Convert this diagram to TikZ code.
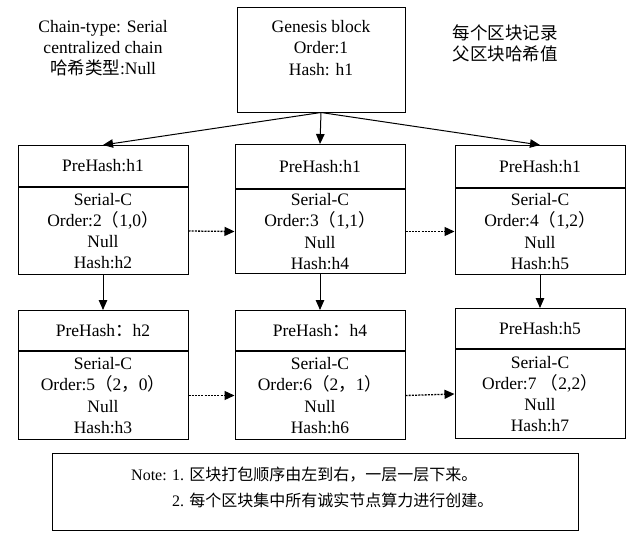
\documentclass[tikz,border=0pt]{standalone}
\usepackage{fontspec}
\setmainfont{Liberation Serif}
\newfontfamily\cjk{Noto Sans CJK SC}
\usetikzlibrary{arrows.meta}
\newcommand\blkfont{\fontsize{17.5}{21.3}\selectfont}
\newcommand\notefont{\fontsize{16}{26}\selectfont}
\begin{document}
\begin{tikzpicture}[x=1pt,y=-1pt,
  box/.style={draw, line width=1pt, minimum width=170pt, inner sep=0pt, align=center, font=\blkfont},
  txt/.style={align=center, font=\blkfont, inner sep=0pt},
  arr/.style={line width=1pt, -{Triangle[length=10pt,width=8.5pt]}},
  darr/.style={line width=1.3pt, dash pattern=on 2pt off 1.2pt, -{Triangle[length=10pt,width=9pt]}}]
\useasboundingbox (0,0) rectangle (632,536);

% genesis
\node[box, minimum width=168pt, minimum height=105pt] (g) at (321,59.5) {};
\node[txt] (gt) at (321,48) {Genesis block\\Order:1\\Hash: h1};
\node[txt] (lt) at (103,48) {Chain-type: Serial\\centralized chain\\{\cjk 哈希类型}:Null};
\node[txt] (rt) at (505,43) {\cjk 每个区块记录\\\cjk 父区块哈希值};

% row 1
\node[box, minimum height=41pt, anchor=north] (p1) at (103,145) {PreHash:h1};
\node[box, minimum height=87pt, anchor=north] (s1) at (p1.south) {Serial-C\\Order:2{\cjk （}1,0{\cjk ）}\\Null\\Hash:h2};
\node[box, minimum height=44pt, anchor=north] (p2) at (320,144) {PreHash:h1};
\node[box, minimum height=84pt, anchor=north] (s2) at (p2.south) {Serial-C\\Order:3{\cjk （}1,1{\cjk ）}\\Null\\Hash:h4};
\node[box, minimum height=42pt, anchor=north] (p3) at (540,145) {PreHash:h1};
\node[box, minimum height=86pt, anchor=north] (s3) at (p3.south) {Serial-C\\Order:4{\cjk （}1,2{\cjk ）}\\Null\\Hash:h5};

% row 2
\node[box, minimum height=40pt, anchor=north] (p4) at (103,310) {PreHash{\cjk ：}h2};
\node[box, minimum height=88pt, anchor=north] (s4) at (p4.south) {Serial-C\\Order:5{\cjk （}2{\cjk ，}0{\cjk ）}\\Null\\Hash:h3};
\node[box, minimum height=40pt, anchor=north] (p5) at (320,310) {PreHash{\cjk ：}h4};
\node[box, minimum height=88pt, anchor=north] (s5) at (p5.south) {Serial-C\\Order:6{\cjk （}2{\cjk ，}1{\cjk ）}\\Null\\Hash:h6};
\node[box, minimum height=40pt, anchor=north] (p6) at (540,308) {PreHash:h5};
\node[box, minimum height=89pt, anchor=north] (s6) at (p6.south) {Serial-C\\Order:7 {\cjk （}2,2{\cjk ）}\\Null\\Hash:h7};

% arrows
\draw[arr] (g.south) -- (p1.north);
\draw[arr] (g.south) -- (p2.north);
\draw[arr] (g.south) -- (p3.north);
\draw[arr] (s1.south) -- (p4.north);
\draw[arr] (s2.south) -- (p5.north);
\draw[arr] (s3.south) -- (p6.north);
\draw[darr] (s1.east) -- (s2.west);
\draw[darr] (s2.east) -- (s3.west);
\draw[darr] (s4.east) -- (s5.west);
\draw[darr] (s5.east) -- (s6.west);

% note
\node[draw, line width=1pt, minimum width=526pt, minimum height=77pt, inner sep=0pt] (note) at (315,491.5) {};
\node[align=left, inner sep=0pt, font=\notefont, anchor=west] (nt) at (131,487)
  {Note: 1. {\cjk 区块打包顺序由左到右，一层一层下来。}\\\hphantom{Note: }2. {\cjk 每个区块集中所有诚实节点算力进行创建。}};
\end{tikzpicture}
\end{document}
